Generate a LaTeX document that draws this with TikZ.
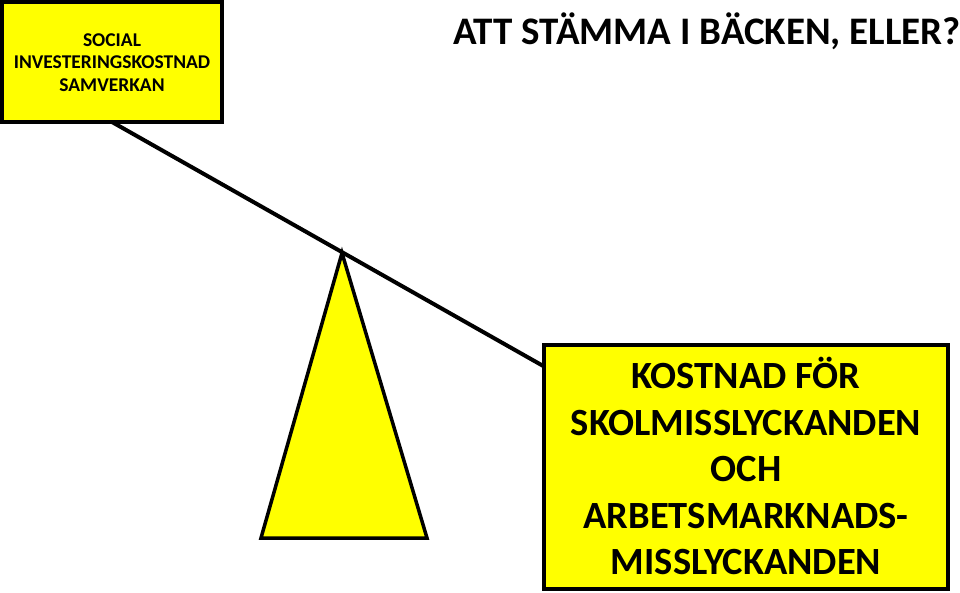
\documentclass[tikz,border=0pt]{standalone}
\usepackage{fontspec}
\setmainfont{Carlito}
\definecolor{boxyellow}{RGB}{255,255,0}
\begin{document}
\begin{tikzpicture}[x=1pt,y=-1pt,
  ybox/.style={draw=black, line width=3.5pt, fill=boxyellow, inner sep=0pt, align=center, font=\bfseries},
  lever/.style={draw=black, line width=4pt},
  fulcrum/.style={draw=black, line width=3.5pt, fill=boxyellow, line join=miter}]
\useasboundingbox (0,0) rectangle (960,593);
% lever
\coordinate (lstart) at (112,122);
\coordinate (lend) at (545,367);
\draw[lever] (lstart) -- (lend);
% fulcrum
\coordinate (apex) at (342,253);
\coordinate (bl) at (261,538);
\coordinate (br) at (427,538);
\draw[fulcrum] (apex) -- (br) -- (bl) -- cycle;
% boxes
\node[ybox, minimum width=220pt, minimum height=120pt] (inv) at (112,62) {};
\node[font=\bfseries\fontsize{19.5}{22.5}\selectfont, align=center, inner sep=0pt] (invtext) at (112,62.5) {SOCIAL\\INVESTERINGSKOSTNAD\\SAMVERKAN};
\node[ybox, minimum width=404pt, minimum height=244pt] (cost) at (746,467) {};
\node[font=\bfseries\fontsize{38.5}{46.5}\selectfont, align=center, inner sep=0pt] (costtext) at (746,466) {KOSTNAD FÖR\\SKOLMISSLYCKANDEN\\OCH\\ARBETSMARKNADS-\\MISSLYCKANDEN};
% title
\node[font=\bfseries\fontsize{39}{42}\selectfont, anchor=base west, inner sep=0pt] (title) at (453,45) {ATT STÄMMA I BÄCKEN, ELLER?};
\end{tikzpicture}
\end{document}
